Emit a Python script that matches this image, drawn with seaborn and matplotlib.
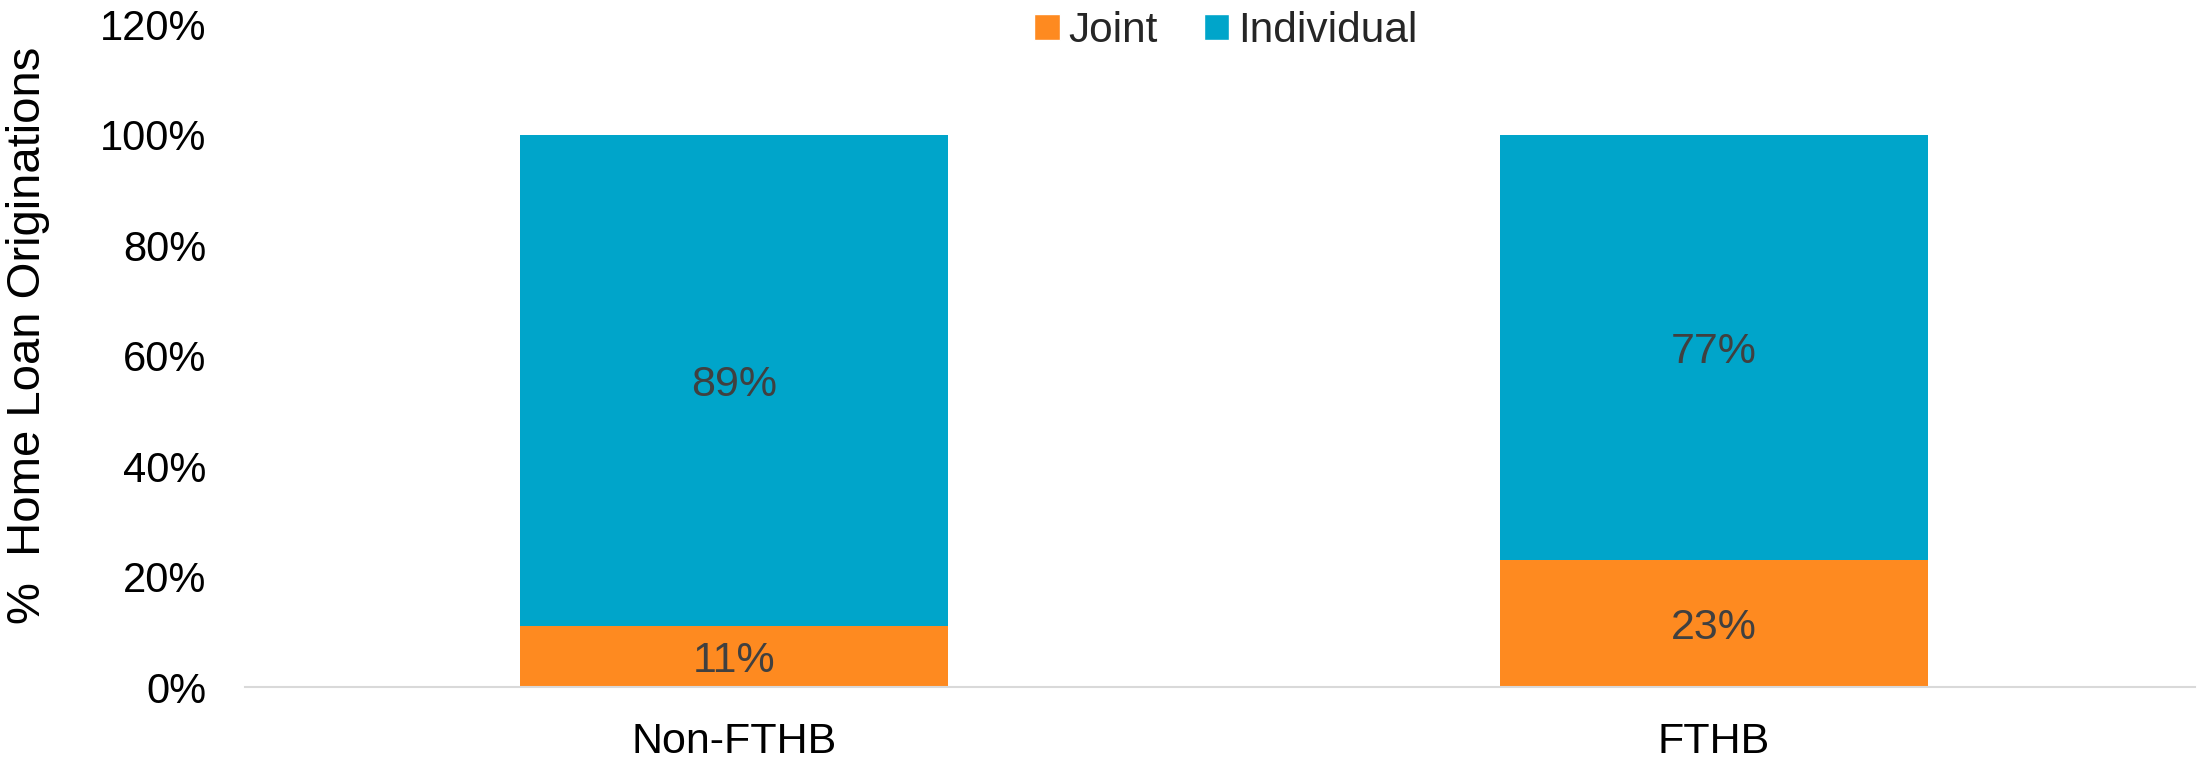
import matplotlib
matplotlib.use("Agg")
import matplotlib.pyplot as plt
import seaborn as sns
import pandas as pd
from matplotlib.patches import Patch

categories = ["Non-FTHB", "FTHB"]
joint = [11, 23]
individual = [89, 77]
series_names = ["Joint", "Individual"]
yticks = [0, 20, 40, 60, 80, 100, 120]
ytick_labels = ["0%", "20%", "40%", "60%", "80%", "100%", "120%"]
ylabel = "%  Home Loan Originations"

c_joint = "#FE8A20"
c_ind = "#00A5CA"

sns.set_theme(style="white")
plt.rcParams["font.family"] = ["Liberation Sans", "DejaVu Sans"]

df = pd.DataFrame({
    "category": categories,
    "Joint": joint,
    "Individual": individual,
})
df["Total"] = df["Joint"] + df["Individual"]

fig = plt.figure(figsize=(21.97, 7.6), dpi=100)
ax = fig.add_axes([0.1115, 0.096, 0.8875, 0.872])

sns.barplot(data=df, x="category", y="Total", color=c_ind, width=0.437,
            saturation=1, edgecolor="none", ax=ax)
sns.barplot(data=df, x="category", y="Joint", color=c_joint, width=0.437,
            saturation=1, edgecolor="none", ax=ax)

ax.set_xlim(-0.499, 1.491)
ax.set_ylim(0, 120)
ax.set_yticks(yticks)
ax.set_yticklabels(ytick_labels)
ax.tick_params(axis="both", length=0, labelsize=30, colors="black")
ax.tick_params(axis="x", labelsize=31)
ax.tick_params(axis="y", pad=28)
ax.tick_params(axis="x", pad=25)
ax.set_xlabel("")
ax.set_ylabel(ylabel, fontsize=34, color="black")
ax.yaxis.set_label_coords(-0.1, 0.53)

for s in ["top", "right", "left"]:
    ax.spines[s].set_visible(False)
ax.spines["bottom"].set_color("#D9D9D9")
ax.spines["bottom"].set_linewidth(1.5)

for i, (j, ind) in enumerate(zip(joint, individual)):
    ax.text(i, j / 2, f"{j}%", ha="center", va="center_baseline", fontsize=31, color="#404040")
    ax.text(i, j + ind / 2, f"{ind}%", ha="center", va="center_baseline", fontsize=31, color="#404040")

handles = [Patch(facecolor=c_joint, label=series_names[0]),
           Patch(facecolor=c_ind, label=series_names[1])]
ax.legend(handles=handles, loc="center", bbox_to_anchor=(0.503, 0.99), ncol=2,
          frameon=False, fontsize=30.5, handlelength=0.6, handleheight=0.6,
          handletextpad=0.2, columnspacing=1.1)

fig.savefig("out.png", dpi=100)
